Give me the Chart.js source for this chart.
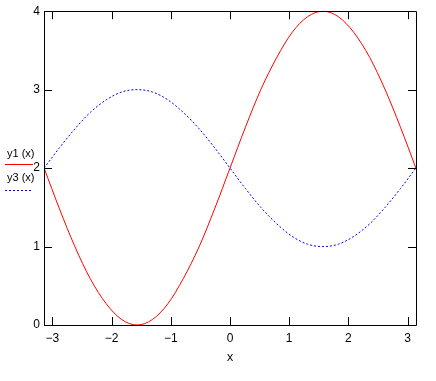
<!DOCTYPE html>
<html><head><meta charset="utf-8">
<script src="https://cdn.jsdelivr.net/npm/chart.js@4/dist/chart.umd.min.js"></script>
<style>html,body{margin:0;padding:0;background:#fff;overflow:hidden}#wrap{width:436px;height:381px;position:relative}</style>
</head><body><div id="wrap"><canvas id="c" width="436" height="381"></canvas></div>
<script>
const xValues = [-3.14,-2.88,-2.62,-2.36,-2.09,-1.83,-1.57,-1.31,-1.05,-0.79,-0.52,-0.26,0,0.26,0.52,0.79,1.05,1.31,1.57,1.83,2.09,2.36,2.62,2.88,3.14];
const y1Values = [2,1.48,1.0,0.59,0.27,0.07,0,0.07,0.27,0.59,1.0,1.48,2,2.52,3.0,3.41,3.73,3.93,4,3.93,3.73,3.41,3.0,2.52,2];
const y3Values = [2,2.26,2.5,2.71,2.87,2.97,3,2.97,2.87,2.71,2.5,2.26,2,1.74,1.5,1.29,1.13,1.03,1,1.03,1.13,1.29,1.5,1.74,2];
const xTicks = [-3,-2,-1,0,1,2,3];
const yTicks = [0,1,2,3,4];
const seriesLabels = ['y1 (x)','y3 (x)'];
const xTitle = 'x';
const xMin = -3.1416, xMax = 3.1416, yMin = 0, yMax = 4;

const pts = ys => xValues.map((x,i)=>({x:x,y:ys[i]}));
const FONT = "'Liberation Sans', Arial, sans-serif";

const framePlugin = {
  id:'frame',
  afterDatasetsDraw(chart){
    const ctx = chart.ctx, a = chart.chartArea;
    const xs = chart.scales.x, ys = chart.scales.y;
    ctx.save();
    ctx.strokeStyle = '#000'; ctx.lineWidth = 1;
    ctx.beginPath();
    ctx.rect(Math.round(a.left)+0.5, Math.round(a.top)+0.5, Math.round(a.right-a.left), Math.round(a.bottom-a.top));
    ctx.stroke();
    const tl = 8;
    ctx.beginPath();
    xTicks.forEach(v=>{
      const px = Math.round(xs.getPixelForValue(v))+0.5;
      ctx.moveTo(px, a.bottom); ctx.lineTo(px, a.bottom-tl);
      ctx.moveTo(px, a.top); ctx.lineTo(px, a.top+tl);
    });
    yTicks.forEach(v=>{
      const py = Math.round(ys.getPixelForValue(v))+0.5;
      ctx.moveTo(a.left, py); ctx.lineTo(a.left+tl, py);
      ctx.moveTo(a.right, py); ctx.lineTo(a.right-tl, py);
    });
    ctx.stroke();
    // legend
    ctx.font = '11px ' + FONT;
    ctx.fillStyle = '#000';
    ctx.textBaseline = 'alphabetic';
    ctx.textAlign = 'left';
    ctx.fillText(seriesLabels[0], 7, 157);
    ctx.fillText(seriesLabels[1], 7, 181);
    const ds = chart.data.datasets;
    ctx.lineWidth = 1;
    ctx.strokeStyle = ds[0].borderColor; ctx.setLineDash([]);
    ctx.beginPath(); ctx.moveTo(5, 164.5); ctx.lineTo(33, 164.5); ctx.stroke();
    ctx.strokeStyle = ds[1].borderColor; ctx.setLineDash([2,2]);
    ctx.beginPath(); ctx.moveTo(5, 190.5); ctx.lineTo(33, 190.5); ctx.stroke();
    ctx.restore();
  }
};

new Chart(document.getElementById('c'), {
  type:'line',
  data:{datasets:[
    {label:seriesLabels[0], data:pts(y1Values), borderColor:'#ff0000', borderWidth:1, pointRadius:0, cubicInterpolationMode:'monotone', fill:false},
    {label:seriesLabels[1], data:pts(y3Values), borderColor:'#0000ff', borderWidth:1, borderDash:[2,2], pointRadius:0, cubicInterpolationMode:'monotone', fill:false}
  ]},
  options:{
    responsive:false, devicePixelRatio:1, animation:false,
    layout:{padding:{left:0,right:20,top:8,bottom:0}},
    plugins:{legend:{display:false}, tooltip:{enabled:false}},
    scales:{
      x:{type:'linear', min:xMin, max:xMax,
        afterBuildTicks(s){ s.ticks = xTicks.map(v=>({value:v})); },
        afterFit(s){ s.height = 56; },
        grid:{display:false, drawTicks:false}, border:{display:false},
        ticks:{padding:6, color:'#000', maxRotation:0, autoSkip:false, font:{family:FONT,size:12},
          callback:v=> (v<0?'\u2212'+Math.abs(v):String(v))},
        title:{display:true, text:xTitle, color:'#000', font:{family:"'Liberation Mono', monospace", size:12, weight:'normal'}, padding:{top:0,bottom:16}}
      },
      y:{type:'linear', min:yMin, max:yMax,
        afterBuildTicks(s){ s.ticks = yTicks.map(v=>({value:v})); },
        afterFit(s){ s.width = 44; },
        grid:{display:false, drawTicks:false}, border:{display:false},
        ticks:{padding:4, color:'#000', font:{family:FONT,size:12}}
      }
    }
  },
  plugins:[framePlugin]
});
</script></body></html>
